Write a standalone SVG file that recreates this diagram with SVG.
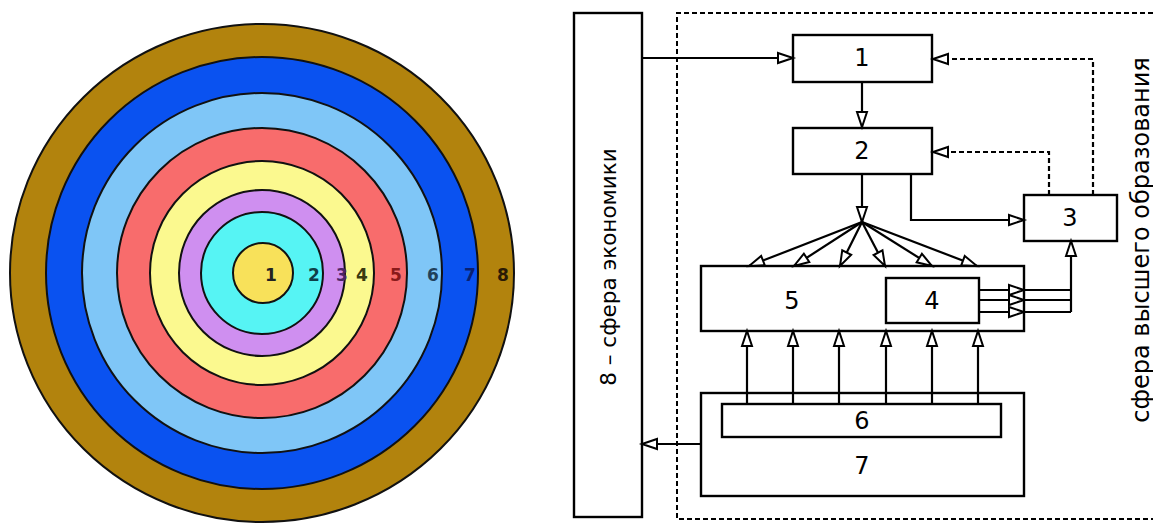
<svg xmlns="http://www.w3.org/2000/svg" width="1153" height="523" viewBox="0 0 1153 523">
<style>
.ring{stroke:#111;stroke-width:2}
.cl{font-family:"DejaVu Sans",sans-serif;font-size:17px;font-weight:bold;text-anchor:middle;dominant-baseline:central}
.box{fill:#fff;stroke:#000;stroke-width:2.4}
.num{font-family:"DejaVu Sans",sans-serif;font-size:24px;text-anchor:middle;dominant-baseline:central;fill:#000}
.side{font-family:"DejaVu Sans",sans-serif;text-anchor:middle;dominant-baseline:central;fill:#000}
.ln{fill:none;stroke:#000;stroke-width:2.2}
.ar{fill:none;stroke:#000;stroke-width:2.2;marker-end:url(#tri)}
.da{fill:none;stroke:#000;stroke-width:2.2;stroke-dasharray:5,3;marker-end:url(#tri)}
</style>
<defs>
<marker id="tri" markerUnits="userSpaceOnUse" markerWidth="18" markerHeight="12" refX="15" refY="5" orient="auto" overflow="visible">
<path d="M0,0 L15,5 L0,10 Z" fill="#fff" stroke="#000" stroke-width="2"/>
</marker>
</defs>
<rect width="1153" height="523" fill="#fff"/>
<g id="circles">
<ellipse class="ring" cx="262" cy="273" rx="252" ry="249" fill="#b2830d"/>
<circle class="ring" cx="262" cy="273" r="216" fill="#0a52f0"/>
<circle class="ring" cx="262" cy="273" r="180" fill="#7fc6f7"/>
<circle class="ring" cx="262" cy="273" r="145" fill="#f86c6c"/>
<circle class="ring" cx="262" cy="273" r="112" fill="#fbf98f"/>
<circle class="ring" cx="262" cy="273" r="83" fill="#cf8ff0"/>
<circle class="ring" cx="262" cy="273" r="61" fill="#56f4f4"/>
<circle class="ring" cx="263" cy="273" r="30" fill="#f8e15a"/>
<text class="cl" x="271" y="275" fill="#222">1</text>
<text class="cl" x="314" y="275" fill="#0f3f48">2</text>
<text class="cl" x="342" y="275" fill="#4a2466">3</text>
<text class="cl" x="362" y="275" fill="#3a3a10">4</text>
<text class="cl" x="396" y="275" fill="#8a1a1a">5</text>
<text class="cl" x="433" y="275" fill="#20405a">6</text>
<text class="cl" x="470" y="275" fill="#0a1f70">7</text>
<text class="cl" x="503" y="275" fill="#2a1a05">8</text>
</g>
<path d="M1153,13 H677 V519 H1153" fill="none" stroke="#000" stroke-width="2" stroke-dasharray="5,3"/>
<g id="node8"><rect class="box" x="574" y="13" width="68" height="504"/><text class="side" font-size="21.5" transform="translate(608,267) rotate(-90)">8 – сфера экономики</text></g>
<text class="side" font-size="24" transform="translate(1141,240) rotate(-90)">сфера высшего образования</text>
<g id="node1"><rect class="box" x="793" y="35" width="139" height="47"/><text class="num" x="862" y="58">1</text></g>
<g id="node2"><rect class="box" x="793" y="128" width="139" height="46"/><text class="num" x="862" y="151">2</text></g>
<g id="node3"><rect class="box" x="1024" y="195" width="93" height="46"/><text class="num" x="1070" y="218">3</text></g>
<g id="node5"><rect class="box" x="701" y="266" width="323" height="65"/><text class="num" x="792" y="301">5</text></g>
<g id="node4"><rect class="box" x="886" y="278" width="93" height="45"/><text class="num" x="932" y="301">4</text></g>
<g id="node7"><rect class="box" x="701" y="393" width="323" height="103"/><text class="num" x="862" y="466">7</text></g>
<g id="node6"><rect class="box" x="722" y="404" width="279" height="33"/><text class="num" x="862" y="421">6</text></g>
<g id="connectors">
<path class="ar" d="M642,58 H793"/>
<path class="ar" d="M862,82 V127"/>
<path class="da" d="M1093,195 V59 H933"/>
<path class="da" d="M1049,195 V152 H933"/>
<path class="ar" d="M911,174 V220 H1024"/>
<path class="ar" d="M862,174 V222"/>
<path class="ar" d="M862,222 L749,266"/>
<path class="ar" d="M862,222 L794,266"/>
<path class="ar" d="M862,222 L840,266"/>
<path class="ar" d="M862,222 L885,266"/>
<path class="ar" d="M862,222 L932,266"/>
<path class="ar" d="M862,222 L977,266"/>
<path class="ar" d="M979,290 H1024"/>
<path class="ar" d="M979,300 H1024"/>
<path class="ar" d="M979,312 H1024"/>
<path class="ln" d="M1024,290 H1071 M1024,300 H1071 M1024,312 H1071"/>
<path class="ar" d="M1071,312 V241"/>
<path class="ar" d="M747,404 V331"/>
<path class="ar" d="M793,404 V331"/>
<path class="ar" d="M839,404 V331"/>
<path class="ar" d="M886,404 V331"/>
<path class="ar" d="M932,404 V331"/>
<path class="ar" d="M978,404 V331"/>
<path class="ar" d="M701,444 H642"/>
</g>
</svg>
